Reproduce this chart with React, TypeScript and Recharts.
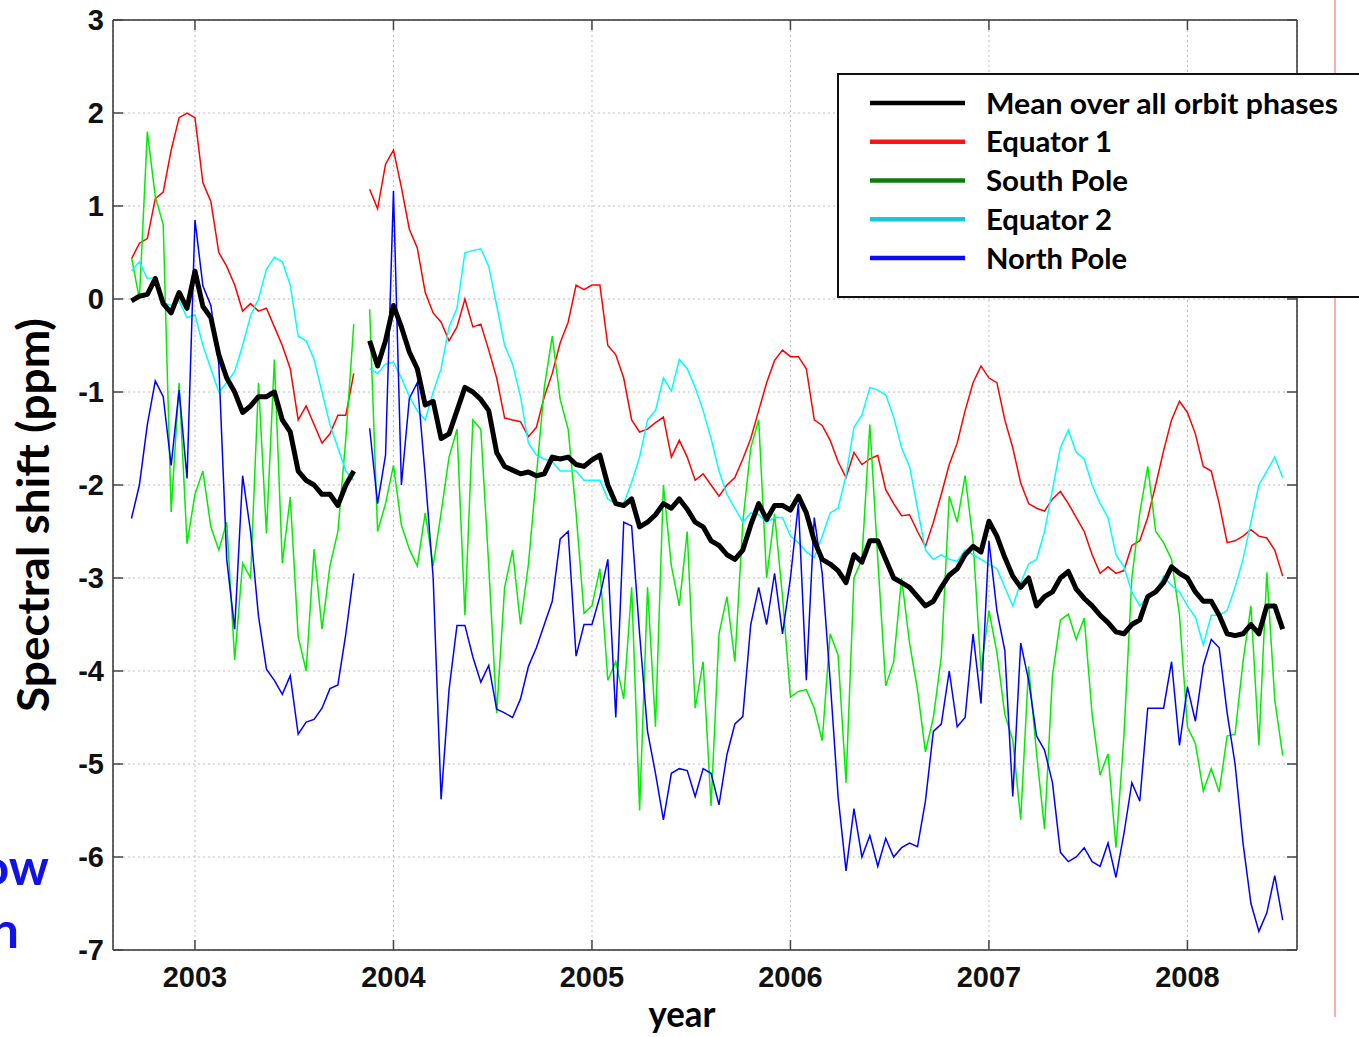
import React from 'react'
import { LineChart, Line, XAxis, YAxis, CartesianGrid, Legend, Label } from 'recharts'

// decimal years, one sample every ~2 weeks
const years = [
  2002.68, 2002.72, 2002.76, 2002.80, 2002.84, 2002.88, 2002.92, 2002.96,
  2003.00, 2003.04, 2003.08, 2003.12, 2003.16, 2003.20, 2003.24, 2003.28, 2003.32, 2003.36, 2003.40, 2003.44,
  2003.48, 2003.52, 2003.56, 2003.60, 2003.64, 2003.68, 2003.72, 2003.76, 2003.80, 2003.84, 2003.88, 2003.92, 2003.96,
  2004.00, 2004.04, 2004.08, 2004.12, 2004.16, 2004.20, 2004.24, 2004.28, 2004.32, 2004.36, 2004.40, 2004.44,
  2004.48, 2004.52, 2004.56, 2004.60, 2004.64, 2004.68, 2004.72, 2004.76, 2004.80, 2004.84, 2004.88, 2004.92, 2004.96,
  2005.00, 2005.04, 2005.08, 2005.12, 2005.16, 2005.20, 2005.24, 2005.28, 2005.32, 2005.36, 2005.40, 2005.44,
  2005.48, 2005.52, 2005.56, 2005.60, 2005.64, 2005.68, 2005.72, 2005.76, 2005.80, 2005.84, 2005.88, 2005.92, 2005.96,
  2006.00, 2006.04, 2006.08, 2006.12, 2006.16, 2006.20, 2006.24, 2006.28, 2006.32, 2006.36, 2006.40, 2006.44,
  2006.48, 2006.52, 2006.56, 2006.60, 2006.64, 2006.68, 2006.72, 2006.76, 2006.80, 2006.84, 2006.88, 2006.92, 2006.96,
  2007.00, 2007.04, 2007.08, 2007.12, 2007.16, 2007.20, 2007.24, 2007.28, 2007.32, 2007.36, 2007.40, 2007.44,
  2007.48, 2007.52, 2007.56, 2007.60, 2007.64, 2007.68, 2007.72, 2007.76, 2007.80, 2007.84, 2007.88, 2007.92, 2007.96,
  2008.00, 2008.04, 2008.08, 2008.12, 2008.16, 2008.20, 2008.24, 2008.28, 2008.32, 2008.36, 2008.40, 2008.44, 2008.48,
]

const meanShift = [
  -0.02, 0.03, 0.05, 0.22, -0.05, -0.15, 0.07, -0.1, 0.3, -0.08,
  -0.2, -0.6, -0.85, -1.0, -1.22, -1.15, -1.05, -1.05, -1.0, -1.3,
  -1.43, -1.85, -1.95, -2.0, -2.1, -2.1, -2.22, -2.0, -1.85, null,
  -0.45, -0.72, -0.45, -0.07, -0.3, -0.57, -0.75, -1.14, -1.1, -1.5,
  -1.45, -1.2, -0.95, -1.0, -1.08, -1.2, -1.65, -1.8, -1.84, -1.88,
  -1.86, -1.9, -1.88, -1.7, -1.72, -1.7, -1.78, -1.8, -1.73, -1.68,
  -2.0, -2.2, -2.22, -2.15, -2.45, -2.4, -2.32, -2.2, -2.25, -2.15,
  -2.26, -2.4, -2.45, -2.6, -2.65, -2.75, -2.8, -2.7, -2.43, -2.2,
  -2.37, -2.22, -2.22, -2.27, -2.12, -2.3, -2.6, -2.8, -2.85, -2.92,
  -3.05, -2.75, -2.83, -2.6, -2.6, -2.8, -3.0, -3.05, -3.1, -3.2,
  -3.3, -3.25, -3.1, -2.97, -2.9, -2.75, -2.66, -2.72, -2.39, -2.55,
  -2.78, -2.98, -3.1, -3.0, -3.3, -3.2, -3.15, -3.0, -2.93, -3.12,
  -3.22, -3.3, -3.4, -3.48, -3.58, -3.6, -3.5, -3.45, -3.2, -3.15,
  -3.05, -2.88, -2.95, -3.0, -3.15, -3.25, -3.25, -3.4, -3.6, -3.62,
  -3.6, -3.5, -3.6, -3.3, -3.3, -3.55,
]

const equator1Shift = [
  0.43, 0.6, 0.65, 1.08, 1.15, 1.6, 1.95, 2.0, 1.95, 1.25,
  1.05, 0.5, 0.35, 0.15, -0.13, -0.05, -0.13, -0.1, -0.3, -0.5,
  -0.75, -1.3, -1.15, -1.35, -1.55, -1.45, -1.25, -1.25, -0.8, null,
  1.18, 0.97, 1.45, 1.6, 1.2, 0.75, 0.55, 0.07, -0.15, -0.25,
  -0.45, -0.3, 0.0, -0.3, -0.27, -0.55, -0.85, -1.28, -1.3, -1.32,
  -1.48, -1.38, -1.05, -0.8, -0.47, -0.25, 0.15, 0.1, 0.15, 0.15,
  -0.5, -0.6, -0.85, -1.3, -1.43, -1.4, -1.33, -1.27, -1.7, -1.52,
  -1.7, -1.95, -1.88, -2.0, -2.12, -2.0, -1.92, -1.72, -1.5, -1.2,
  -0.9, -0.66, -0.55, -0.62, -0.62, -0.75, -1.3, -1.36, -1.52, -1.75,
  -1.92, -1.65, -1.78, -1.72, -1.68, -2.05, -2.2, -2.33, -2.32, -2.5,
  -2.66, -2.4, -2.1, -1.78, -1.55, -1.2, -0.9, -0.72, -0.85, -0.9,
  -1.3, -1.6, -1.98, -2.2, -2.25, -2.28, -2.15, -2.07, -2.2, -2.35,
  -2.5, -2.75, -2.95, -2.88, -2.95, -2.92, -2.65, -2.6, -2.35, -2.0,
  -1.63, -1.3, -1.1, -1.22, -1.45, -1.8, -1.85, -2.2, -2.62, -2.6,
  -2.55, -2.48, -2.55, -2.57, -2.7, -2.98,
]

const southPoleShift = [
  0.45, 0.0, 1.8, 1.1, 0.8, -2.29, -0.9, -2.63, -2.1, -1.85,
  -2.45, -2.7, -2.4, -3.88, -2.84, -3.0, -0.9, -2.52, -0.65, -2.84,
  -2.13, -3.63, -4.0, -2.69, -3.55, -2.87, -2.5, -1.5, -0.27, null,
  -0.11, -2.5, -2.2, -1.79, -2.43, -2.69, -2.87, -2.3, -2.87, -2.3,
  -1.7, -1.4, -3.4, -1.3, -1.4, -2.87, -4.45, -3.1, -2.7, -3.5,
  -2.85, -1.9, -0.95, -0.4, -1.08, -1.4, -2.3, -3.38, -3.3, -2.9,
  -4.1, -3.9, -4.3, -3.1, -5.5, -3.1, -4.6, -2.0, -2.87, -3.3,
  -2.5, -4.4, -3.9, -5.45, -3.6, -3.2, -3.9, -2.4, -1.6, -1.3,
  -3.0, -2.31, -3.2, -4.28, -4.22, -4.2, -4.4, -4.75, -3.6, -3.83,
  -5.2, -3.0, -2.8, -1.35, -2.8, -4.16, -3.9, -3.0, -3.7, -4.2,
  -4.87, -4.5, -3.85, -2.12, -2.4, -1.9, -2.6, -4.0, -3.35, -3.8,
  -4.47, -4.74, -5.6, -3.95, -4.89, -5.7, -4.05, -3.45, -3.39, -3.66,
  -3.43, -4.47, -5.12, -4.89, -5.9, -4.7, -3.0, -2.3, -1.8, -2.5,
  -2.62, -2.8, -3.4, -4.6, -4.78, -5.29, -5.05, -5.3, -4.7, -4.68,
  -3.9, -3.3, -4.8, -2.94, -4.31, -4.91,
]

const equator2Shift = [
  0.3, 0.4, 0.22, 0.23, -0.04, -0.07, -0.02, -0.2, -0.17, -0.5,
  -0.75, -1.0, -0.9, -0.78, -0.5, -0.18, 0.0, 0.32, 0.45, 0.4,
  0.15, -0.4, -0.45, -0.65, -1.0, -1.35, -1.6, -1.85, -1.95, null,
  -0.75, -0.8, -0.7, -0.68, -0.85, -1.05, -1.2, -1.3, -1.0, -0.75,
  -0.3, -0.1, 0.5, 0.52, 0.54, 0.35, -0.07, -0.5, -0.7, -1.05,
  -1.55, -1.68, -1.72, -1.75, -1.85, -1.85, -1.85, -1.95, -1.95, -1.95,
  -2.15, -2.2, -2.2, -1.97, -1.7, -1.3, -1.2, -0.85, -0.99, -0.65,
  -0.75, -0.95, -1.2, -1.5, -1.85, -2.1, -2.25, -2.4, -2.3, -2.32,
  -2.4, -2.35, -2.35, -2.55, -2.62, -2.72, -2.78, -2.55, -2.3, -2.25,
  -1.9, -1.38, -1.25, -0.95, -0.98, -1.03, -1.27, -1.6, -1.8, -2.25,
  -2.7, -2.8, -2.75, -2.8, -2.82, -2.7, -2.75, -2.8, -2.85, -2.9,
  -3.1, -3.3, -3.05, -2.85, -2.8, -2.5, -2.05, -1.6, -1.41, -1.65,
  -1.72, -2.0, -2.2, -2.35, -2.75, -2.88, -3.15, -3.3, -3.2, -3.15,
  -2.98, -3.08, -3.15, -3.3, -3.42, -3.72, -3.4, -3.4, -3.35, -3.1,
  -2.8, -2.4, -2.0, -1.85, -1.7, -1.92,
]

const northPoleShift = [
  -2.36, -2.0, -1.35, -0.88, -1.05, -1.79, -0.98, -1.93, 0.85, 0.14,
  -0.07, -0.7, -2.8, -3.55, -1.9, -2.5, -3.41, -3.98, -4.1, -4.25,
  -4.05, -4.68, -4.55, -4.52, -4.4, -4.19, -4.15, -3.6, -2.95, null,
  -1.39, -2.2, -1.68, 1.16, -2.0, -1.07, -0.9, -1.9, -3.0, -5.38,
  -4.2, -3.51, -3.51, -3.85, -4.12, -3.94, -4.41, -4.45, -4.5, -4.3,
  -3.95, -3.75, -3.5, -3.25, -2.58, -2.5, -3.84, -3.5, -3.5, -3.2,
  -2.8, -4.5, -2.4, -2.44, -3.6, -4.65, -5.1, -5.6, -5.1, -5.05,
  -5.07, -5.35, -5.05, -5.1, -5.44, -4.9, -4.57, -4.49, -3.5, -3.1,
  -3.5, -2.95, -3.6, -3.0, -2.2, -4.1, -2.35, -2.95, -4.1, -5.35,
  -6.15, -5.48, -6.0, -5.77, -6.1, -5.8, -6.0, -5.9, -5.85, -5.89,
  -5.4, -4.65, -4.57, -4.0, -4.6, -4.5, -3.6, -4.35, -2.6, -3.35,
  -3.78, -5.35, -3.7, -4.1, -4.7, -4.85, -5.2, -5.95, -6.05, -6.0,
  -5.9, -6.05, -6.1, -5.85, -6.22, -5.75, -5.2, -5.4, -4.4, -4.4,
  -4.4, -3.9, -4.8, -4.17, -4.54, -3.94, -3.66, -3.75, -4.45, -5.0,
  -5.85, -6.5, -6.8, -6.6, -6.2, -6.68,
]

const yearTicks = [2003, 2004, 2005, 2006, 2007, 2008]
const shiftTicks = [-7, -6, -5, -4, -3, -2, -1, 0, 1, 2, 3]

const W = 1359
const H = 1037
const PLOT_LEFT = 113
const PLOT_RIGHT = 1297
const PLOT_TOP = 20
const PLOT_BOTTOM = 950
const X_DOMAIN: [number, number] = [2002.587, 2008.552]

const data = years.map((year, i) => ({
  year,
  mean: meanShift[i],
  eq1: equator1Shift[i],
  sp: southPoleShift[i],
  eq2: equator2Shift[i],
  np: northPoleShift[i],
}))

const series = [
  { key: 'mean', name: 'Mean over all orbit phases', legend: '#000000', len: 352 },
  { key: 'eq1', name: 'Equator 1', legend: '#ff1414', len: 126 },
  { key: 'sp', name: 'South Pole', legend: '#0b7d0b', len: 142 },
  { key: 'eq2', name: 'Equator 2', legend: '#18c8d6', len: 126 },
  { key: 'np', name: 'North Pole', legend: '#0a0aff', len: 141 },
]

const tickText = {
  fontFamily: '"Liberation Sans", Arial, sans-serif',
  fontWeight: 700,
  fontSize: 29,
  fill: '#111',
}
const titleFont = '"Lato", "Open Sans", sans-serif'
const axisStroke = { stroke: '#333', strokeWidth: 1.5 }

function LeftTick(props: any) {
  const y = props.y
  return (
    <g>
      <line x1={PLOT_LEFT} x2={PLOT_LEFT + 10} y1={y} y2={y} stroke="#444" strokeWidth={1.5} />
      <text x={PLOT_LEFT - 9} y={y} dy="0.36em" textAnchor="end" {...tickText}>
        {props.payload.value}
      </text>
    </g>
  )
}

function RightTick(props: any) {
  const y = props.y
  return <line x1={PLOT_RIGHT - 10} x2={PLOT_RIGHT} y1={y} y2={y} stroke="#444" strokeWidth={1.5} />
}

function BottomTick(props: any) {
  const x = props.x
  return (
    <g>
      <line x1={x} x2={x} y1={PLOT_BOTTOM - 10} y2={PLOT_BOTTOM} stroke="#444" strokeWidth={1.5} />
      <text x={x} y={977} dy="0.36em" textAnchor="middle" {...tickText}>
        {props.payload.value}
      </text>
    </g>
  )
}

function TopTick(props: any) {
  const x = props.x
  return <line x1={x} x2={x} y1={PLOT_TOP} y2={PLOT_TOP + 10} stroke="#444" strokeWidth={1.5} />
}

function YTitle() {
  return (
    <text
      x={49}
      y={515}
      transform="rotate(-90 49 515)"
      textAnchor="middle"
      textLength={394}
      lengthAdjust="spacingAndGlyphs"
      fontFamily={titleFont}
      fontWeight={700}
      fontSize={44}
      fill="#000"
    >
      Spectral shift (ppm)
    </text>
  )
}

function XTitle() {
  return (
    <text
      x={682}
      y={1027}
      textAnchor="middle"
      textLength={67}
      lengthAdjust="spacingAndGlyphs"
      fontFamily={titleFont}
      fontWeight={700}
      fontSize={37}
      fill="#000"
    >
      year
    </text>
  )
}

function LegendBox() {
  return (
    <svg width={540} height={228} style={{ display: 'block' }}>
      <rect x={1} y={1} width={560} height={223} fill="#fff" stroke="#111" strokeWidth={2} />
      {series.map((s, i) => (
        <g key={s.key}>
          <line x1={33} x2={128} y1={30 + i * 38.75} y2={30 + i * 38.75} stroke={s.legend} strokeWidth={4.5} />
          <text
            x={149}
            y={40.5 + i * 38.75}
            textLength={s.len}
            lengthAdjust="spacingAndGlyphs"
            fontFamily={titleFont}
            fontWeight={700}
            fontSize={29}
            fill="#000"
          >
            {s.name}
          </text>
        </g>
      ))}
    </svg>
  )
}

export default function App() {
  return (
    <div style={{ position: 'absolute', left: 0, top: 0, width: W, height: H, background: '#fff', overflow: 'hidden' }}>
      {/* slide leftovers around the chart */}
      <svg width={W} height={H} style={{ position: 'absolute', left: 0, top: 0 }}>
        <line x1={1335} x2={1335} y1={0} y2={1017} stroke="#ff5a5a" strokeWidth={1} />
        <text x={49} y={885} textAnchor="end" fontFamily={titleFont} fontWeight={700} fontSize={50} fill="#1212e6">
          ow
        </text>
        <text x={19} y={948} textAnchor="end" fontFamily={titleFont} fontWeight={700} fontSize={50} fill="#1212e6">
          n
        </text>
      </svg>
      <div style={{ position: 'absolute', left: 0, top: 0 }}>
        <LineChart width={W} height={H} data={data} margin={{ top: 19, right: 61, bottom: 47, left: 53 }}>
          <CartesianGrid stroke="#bdbdbd" strokeDasharray="2 3" strokeWidth={1} />
          <XAxis
            dataKey="year"
            type="number"
            domain={X_DOMAIN}
            ticks={yearTicks}
            allowDataOverflow
            height={40}
            tickLine={false}
            axisLine={axisStroke}
            tick={BottomTick}
            interval={0}
          >
            <Label content={XTitle} />
          </XAxis>
          <XAxis
            xAxisId="top"
            orientation="top"
            dataKey="year"
            type="number"
            domain={X_DOMAIN}
            ticks={yearTicks}
            allowDataOverflow
            height={1}
            tickLine={false}
            axisLine={axisStroke}
            tick={TopTick}
            interval={0}
          />
          <YAxis
            type="number"
            domain={[-7, 3]}
            ticks={shiftTicks}
            allowDataOverflow
            width={60}
            tickLine={false}
            axisLine={axisStroke}
            tick={LeftTick}
            interval={0}
          >
            <Label content={YTitle} />
          </YAxis>
          <YAxis
            yAxisId="right"
            orientation="right"
            type="number"
            domain={[-7, 3]}
            ticks={shiftTicks}
            allowDataOverflow
            width={1}
            tickLine={false}
            axisLine={axisStroke}
            tick={RightTick}
            interval={0}
          />
          <Line dataKey="eq1" name="Equator 1" stroke="#ff0000" strokeWidth={1.5} dot={false} isAnimationActive={false} />
          <Line dataKey="sp" name="South Pole" stroke="#00ee00" strokeWidth={1.5} dot={false} isAnimationActive={false} />
          <Line dataKey="eq2" name="Equator 2" stroke="#00ffff" strokeWidth={1.5} dot={false} isAnimationActive={false} />
          <Line dataKey="np" name="North Pole" stroke="#0000ff" strokeWidth={1.5} dot={false} isAnimationActive={false} />
          <Line
            dataKey="mean"
            name="Mean over all orbit phases"
            stroke="#000000"
            strokeWidth={5}
            strokeLinejoin="round"
            dot={false}
            isAnimationActive={false}
          />
          <Legend
            layout="vertical"
            align="center"
            verticalAlign="middle"
            wrapperStyle={{ left: 837, top: 73, width: 540, height: 228 }}
            content={() => <LegendBox />}
          />
        </LineChart>
      </div>
    </div>
  )
}
